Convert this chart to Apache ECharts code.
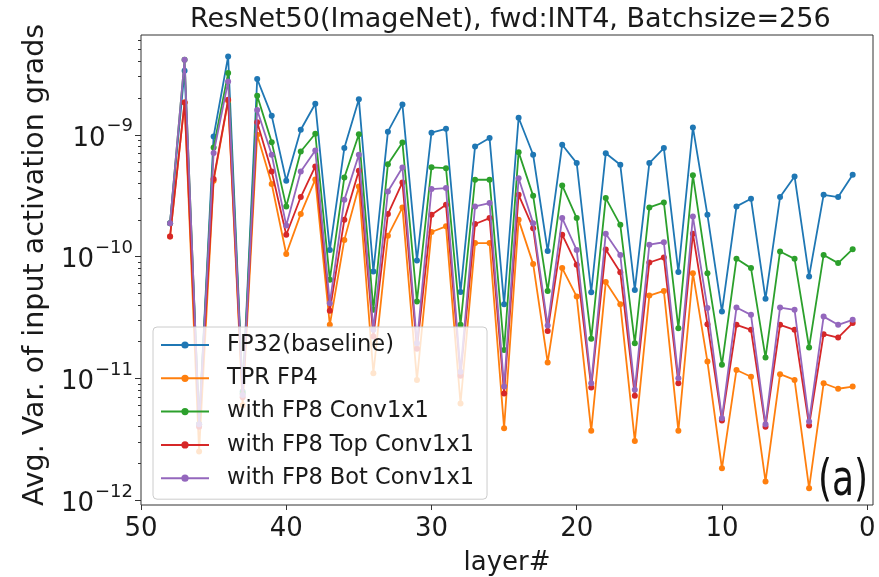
<!DOCTYPE html>
<html>
<head>
<meta charset="utf-8">
<script src="https://cdn.jsdelivr.net/npm/echarts@6/dist/echarts.min.js"></script>
<style>
html,body{margin:0;padding:0;background:#fff;}
#c{width:879px;height:577px;}
</style>
</head>
<body>
<div id="c"></div>
<script>
// ---- data (layer index runs 48 -> 1) ----
const layers = [48,47,46,45,44,43,42,41,40,39,38,37,36,35,34,33,32,31,30,29,28,27,26,25,24,23,22,21,20,19,18,17,16,15,14,13,12,11,10,9,8,7,6,5,4,3,2,1];

const fp32Baseline = [1.88e-10,3.36e-9,4.2e-12,9.7e-10,4.4e-9,7.8e-12,2.87e-9,1.43e-9,4.19e-10,1.10e-9,1.80e-9,1.13e-10,7.78e-10,1.96e-9,7.53e-11,1.06e-9,1.77e-9,9.27e-11,1.04e-9,1.12e-9,5.1e-11,8.0e-10,9.4e-10,4.06e-11,1.38e-9,6.85e-10,1.11e-10,8.28e-10,5.85e-10,5.09e-11,7.06e-10,5.67e-10,5.32e-11,5.85e-10,7.78e-10,7.45e-11,1.15e-9,2.2e-10,3.53e-11,2.58e-10,2.98e-10,4.49e-11,3.08e-10,4.55e-10,6.86e-11,3.21e-10,3.08e-10,4.69e-10];

const tprFp4 = [1.46e-10,1.84e-9,2.5e-12,4.2e-10,1.9e-9,6.0e-12,1.0e-9,3.94e-10,1.05e-10,2.24e-10,4.3e-10,2.75e-11,1.37e-10,3.76e-10,1.1e-11,1.48e-10,2.53e-10,9.7e-12,1.59e-10,1.77e-10,6.2e-12,1.29e-10,1.29e-10,3.89e-12,2.0e-10,8.7e-11,1.35e-11,8.03e-11,4.69e-11,3.7e-12,6.17e-11,4.06e-11,3.06e-12,4.78e-11,5.22e-11,3.7e-12,7.3e-11,1.37e-11,1.82e-12,1.17e-11,1.03e-11,1.42e-12,1.08e-11,9.7e-12,1.25e-12,9.1e-12,8.2e-12,8.55e-12];

const fp8Conv1x1 = [1.88e-10,4.13e-9,4.2e-12,7.87e-10,3.21e-9,7.5e-12,2.09e-9,8.7e-10,2.58e-10,7.29e-10,1.02e-9,6.45e-11,4.46e-10,1.01e-9,3.65e-11,5.74e-10,8.65e-10,4.27e-11,5.4e-10,5.32e-10,2.75e-11,4.27e-10,4.27e-10,1.71e-11,7.2e-10,3.15e-10,5.22e-11,3.84e-10,2.07e-10,2.11e-11,3.02e-10,1.82e-10,1.94e-11,2.53e-10,2.78e-10,2.58e-11,4.65e-10,7.3e-11,1.29e-11,9.57e-11,8.03e-11,1.48e-11,1.1e-10,9.57e-11,1.79e-11,1.03e-10,8.83e-11,1.15e-10];

const fp8TopConv1x1 = [1.46e-10,1.84e-9,4.0e-12,4.34e-10,1.94e-9,7.0e-12,1.27e-9,5.0e-10,1.51e-10,3.08e-10,5.5e-10,3.58e-11,2.0e-10,5.06e-10,2.2e-11,2.23e-10,4.06e-10,1.75e-11,2.2e-10,2.66e-10,1.05e-11,1.85e-10,2.07e-10,7.5e-12,3.21e-10,1.71e-10,2.45e-11,1.51e-10,8.55e-11,8.4e-12,1.14e-10,7.44e-11,7.2e-12,8.93e-11,9.8e-11,9.1e-12,1.54e-10,2.78e-11,4.5e-12,2.75e-11,2.5e-11,4.0e-12,2.75e-11,2.5e-11,4.1e-12,2.3e-11,2.16e-11,2.84e-11];

const fp8BotConv1x1 = [1.88e-10,4.13e-9,4.2e-12,7.07e-10,2.74e-9,7.3e-12,1.60e-9,6.86e-10,1.80e-10,5.0e-10,7.43e-10,4.14e-11,2.92e-10,6.85e-10,2.5e-11,3.42e-10,5.39e-10,1.94e-11,3.58e-10,3.65e-10,1.13e-11,2.58e-10,2.75e-10,8.55e-12,4.4e-10,1.88e-10,2.71e-11,2.07e-10,1.13e-10,9.1e-12,1.54e-10,1.03e-10,8.03e-12,1.25e-10,1.31e-10,1.0e-11,2.13e-10,3.77e-11,4.7e-12,3.81e-11,3.32e-11,4.2e-12,3.81e-11,3.65e-11,4.41e-12,3.21e-11,2.75e-11,3.02e-11];

const seriesNames = ['FP32(baseline)','TPR FP4','with FP8 Conv1x1','with FP8 Top Conv1x1','with FP8 Bot Conv1x1'];
const seriesColors = ['#1f77b4','#ff7f0e','#2ca02c','#d62728','#9467bd'];

const xTickValues = [0,10,20,30,40,50];
const yTickValues = [1e-12,1e-11,1e-10,1e-9];
const Y_MIN = 9.1e-13;
const Y_MAX = 6.6e-9;
const yMinorTickValues = [];
for (let e = -13; e <= -9; e++) {
  for (let k = 2; k <= 9; k++) {
    const v = k * Math.pow(10, e);
    if (v > Y_MIN && v < Y_MAX) yMinorTickValues.push(v);
  }
}

const FONT = 'DejaVu Sans';
const TXT = '#1a1a1a';
const allValues = [fp32Baseline, tprFp4, fp8Conv1x1, fp8TopConv1x1, fp8BotConv1x1];

const GRID_LEFT = 141, GRID_RIGHT = 6;
const plotWidth = 879 - GRID_LEFT - GRID_RIGHT;
const chart = echarts.init(document.getElementById('c'), null, {renderer: 'canvas'});

chart.setOption({
  animation: false,
  backgroundColor: '#ffffff',
  title: {
    text: 'ResNet50(ImageNet), fwd:INT4, Batchsize=256',
    left: 185, top: 1,
    textStyle: {fontFamily: FONT, fontSize: 27, fontWeight: 'normal', color: TXT}
  },
  graphic: [{
    type: 'text',
    x: 818, y: 457,
    scaleX: 0.72,
    z: 10,
    style: {text: '(a)', fontFamily: FONT, fontSize: 50, fill: '#111', textVerticalAlign: 'top'}
  }],
  grid: {left: GRID_LEFT, right: GRID_RIGHT, top: 35, bottom: 72, show: true, borderColor: '#333', borderWidth: 1, backgroundColor: 'transparent', outerBoundsMode: 'none'},
  legend: {
    orient: 'vertical',
    left: 153, top: 327,
    padding: [6, 13, 9, 7],
    itemWidth: 48, itemHeight: 9, itemGap: 9.3,
    backgroundColor: 'rgba(255,255,255,0.8)',
    borderColor: '#cccccc', borderWidth: 1, borderRadius: 4,
    textStyle: {fontFamily: FONT, fontSize: 22.5, color: TXT, lineHeight: 24, padding: [0, 0, 0, 13]},
    data: seriesNames
  },
  xAxis: {
    type: 'value', inverse: true, min: -0.4, max: 50,
    axisLine: {show: false, onZero: false},
    splitLine: {show: false},
    axisTick: {show: true, customValues: xTickValues, length: 5, lineStyle: {color: '#333'}},
    axisLabel: {customValues: xTickValues, fontFamily: FONT, fontSize: 26, color: TXT, margin: 11},
    name: 'layer#', nameLocation: 'middle', nameGap: 45,
    nameTextStyle: {fontFamily: FONT, fontSize: 26, color: TXT}
  },
  yAxis: [
    {
      type: 'log', logBase: 10, min: Y_MIN, max: Y_MAX, position: 'left',
      axisLine: {show: false, onZero: false},
      splitLine: {show: false},
      axisTick: {show: true, customValues: yTickValues, length: 6, lineStyle: {color: '#333'}},
      axisLabel: {
        customValues: yTickValues,
        margin: 8,
        formatter: function (v) {
          const e = Math.round(Math.log10(v));
          return '{b|10}{s|\u2212' + Math.abs(e) + '}';
        },
        rich: {
          b: {fontFamily: FONT, fontSize: 26, color: TXT, lineHeight: 34, verticalAlign: 'bottom'},
          s: {fontFamily: FONT, fontSize: 18, color: TXT, lineHeight: 34, verticalAlign: 'top', padding: [0, 0, 12, 1]}
        }
      },
      name: 'Avg. Var. of input activation grads', nameLocation: 'middle', nameGap: 86, nameRotate: 90,
      nameTextStyle: {fontFamily: FONT, fontSize: 28.5, color: TXT, padding: [0, 0, 0, 10]}
    },
    {
      // minor ticks, drawn on the left edge of the plot
      type: 'log', logBase: 10, min: Y_MIN, max: Y_MAX, position: 'right', offset: -plotWidth,
      axisLine: {show: false, onZero: false},
      splitLine: {show: false},
      axisLabel: {show: false},
      axisTick: {show: true, inside: true, customValues: yMinorTickValues, length: 3, lineStyle: {color: '#333'}}
    }
  ],
  series: seriesNames.map((name, i) => ({
    name: name,
    type: 'line',
    yAxisIndex: 0,
    data: layers.map((l, j) => [l, allValues[i][j]]),
    symbol: 'circle',
    symbolSize: 6,
    showSymbol: true,
    lineStyle: {width: 1.8, color: seriesColors[i]},
    itemStyle: {color: seriesColors[i]},
    z: 2 + i * 0.01
  }))
});
</script>
</body>
</html>
